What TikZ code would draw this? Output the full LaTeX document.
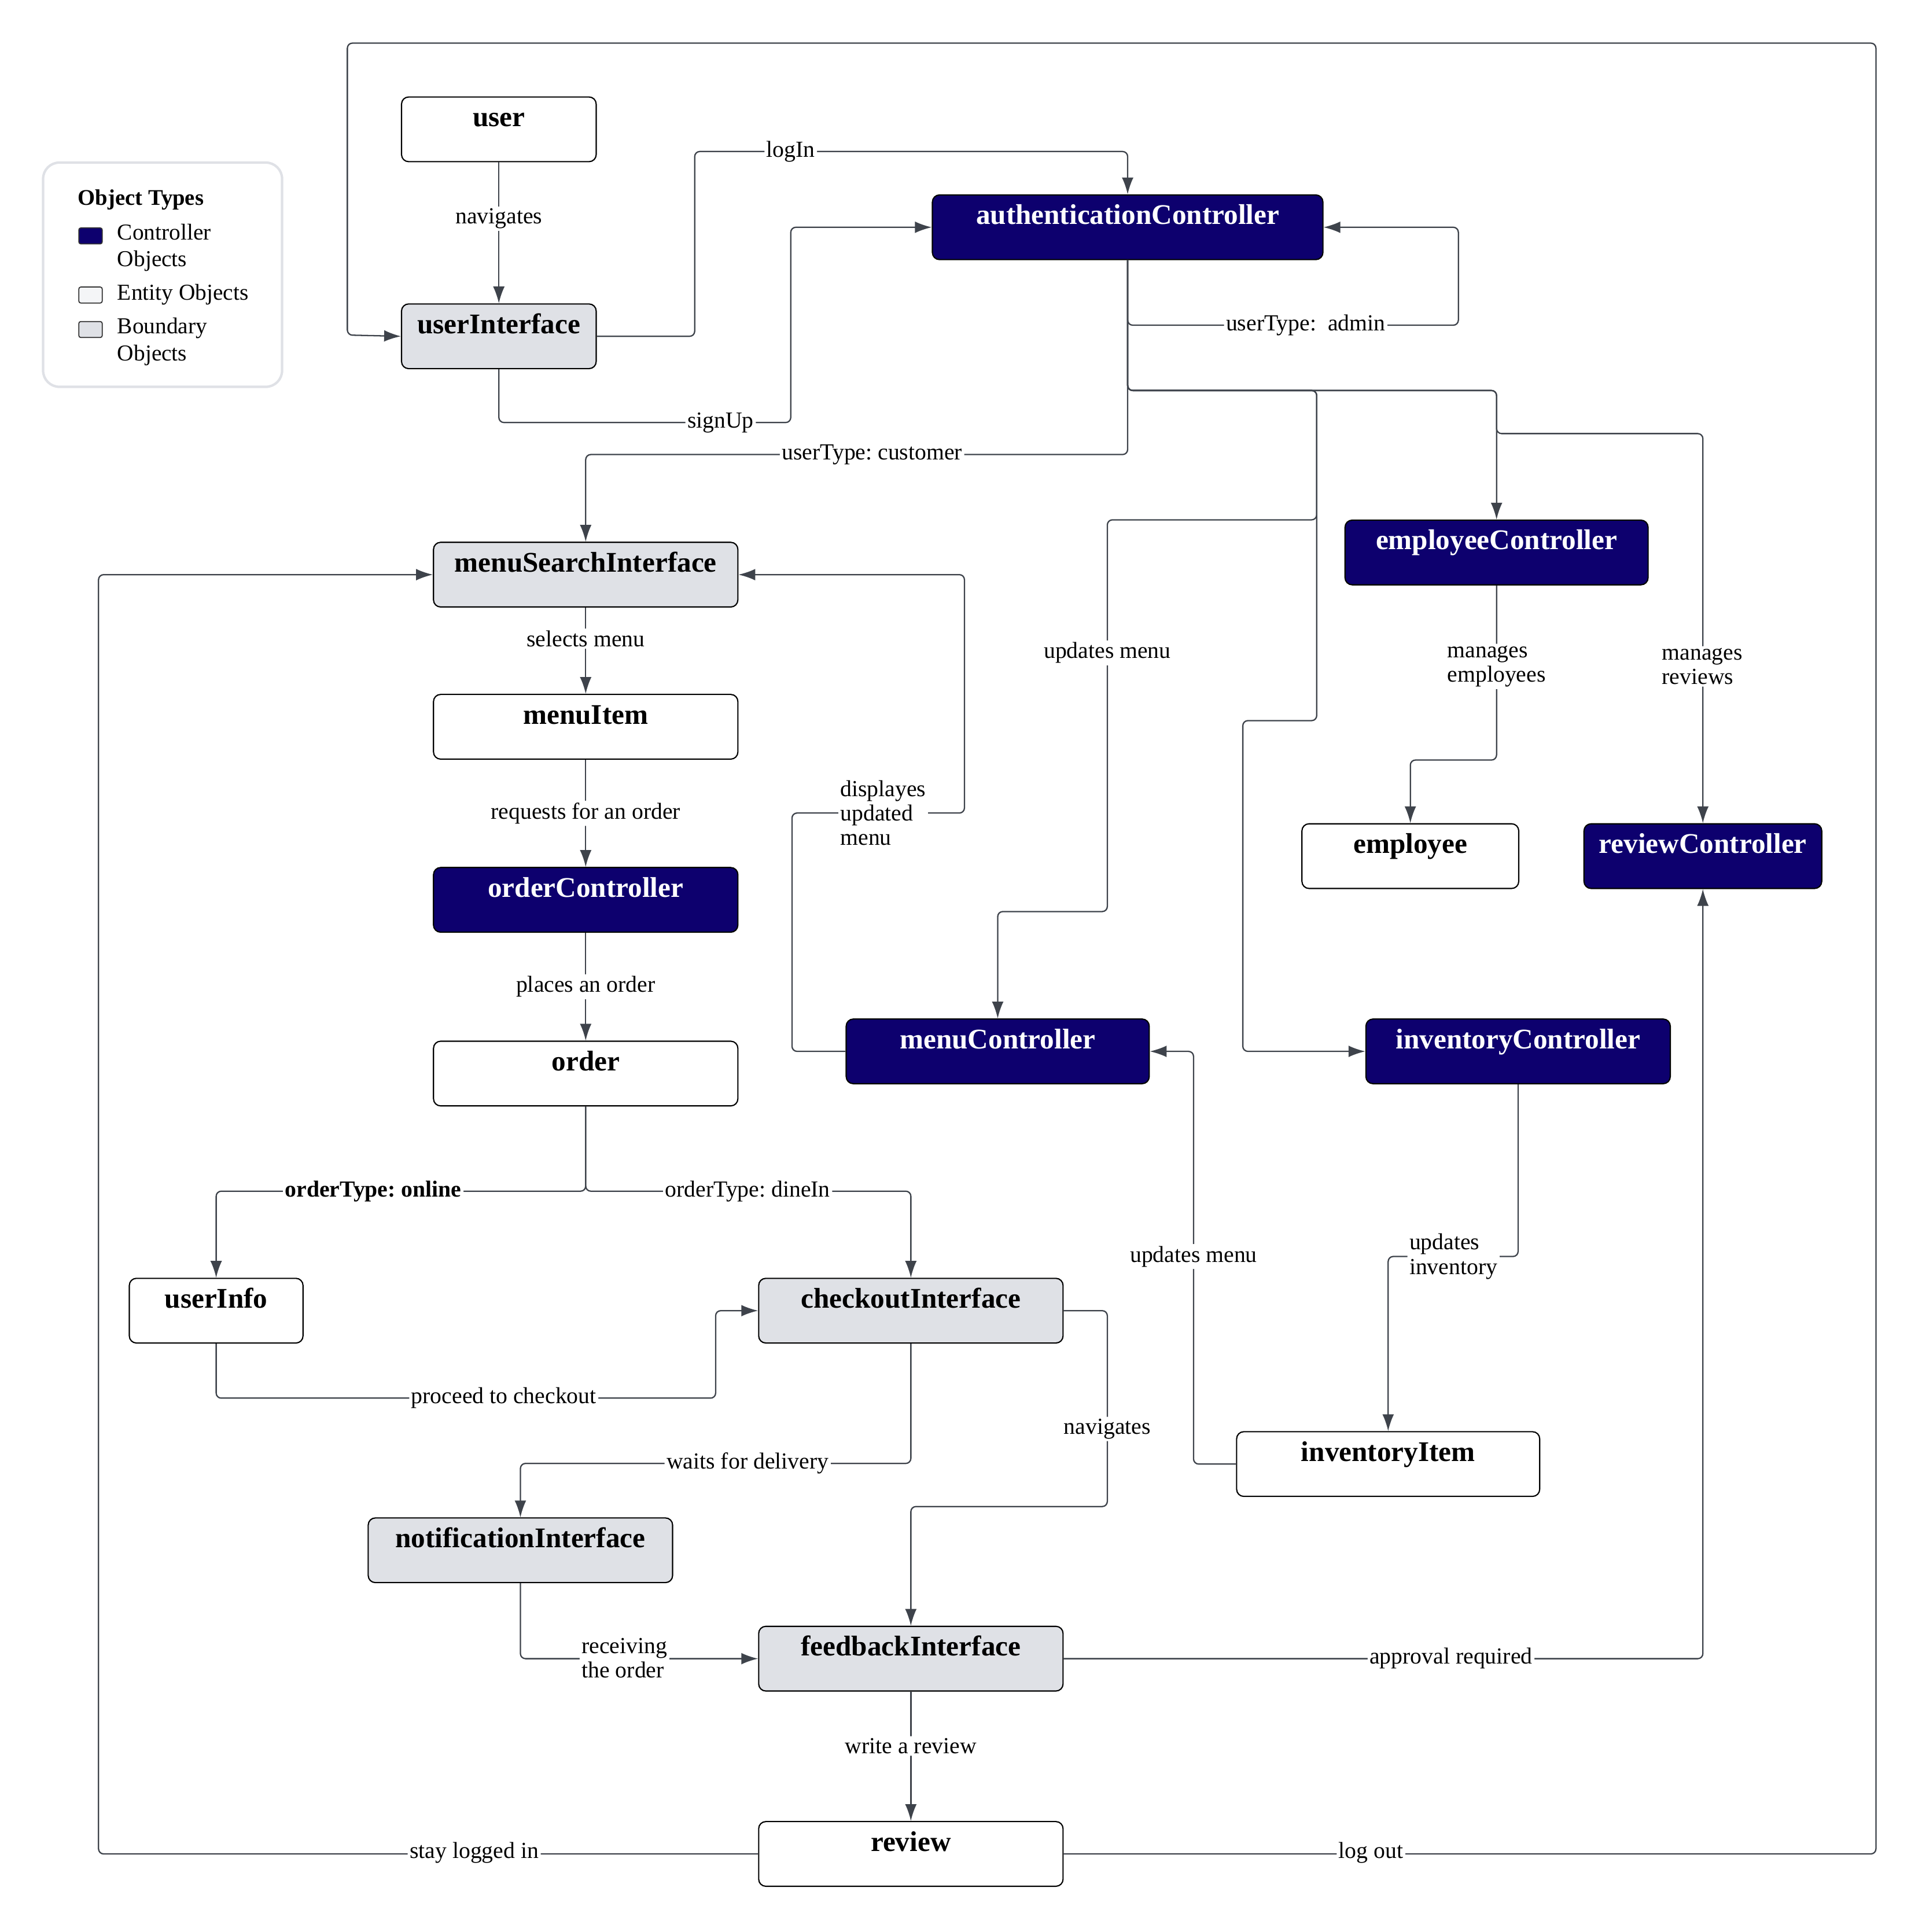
\documentclass[tikz,border=0pt]{standalone}
\usepackage{fontspec}
\setmainfont{Liberation Serif}
\usepackage{xcolor}
\definecolor{ctrlnavy}{RGB}{13,0,110}
\definecolor{bndgray}{RGB}{223,225,230}
\definecolor{entgray}{RGB}{244,245,247}
\definecolor{linegray}{RGB}{62,67,75}
\definecolor{leggray}{RGB}{223,225,230}
\usepackage{tikz}
\usetikzlibrary{shapes,arrows.meta,positioning,calc}
\frenchspacing

\begin{document}
\begin{tikzpicture}[
  x=0.02129cm, y=-0.02129cm,
  ctrlbox/.style={rectangle, rounded corners=3.5pt, draw=black, line width=0.6pt,
                 minimum width=5.26cm, inner xsep=2pt, inner ysep=0pt,
                 text height=14.5pt, text depth=17.3pt,
                 font=\fontsize{14}{16}\selectfont\bfseries,
                 fill=ctrlnavy, text=white},
  entbox/.style={rectangle, rounded corners=3.5pt, draw=black, line width=0.6pt,
                 minimum width=5.26cm, inner xsep=2pt, inner ysep=0pt,
                 text height=14.5pt, text depth=17.3pt,
                 font=\fontsize{14}{16}\selectfont\bfseries,
                 fill=white},
  bndbox/.style={rectangle, rounded corners=3.5pt, draw=black, line width=0.6pt,
                 minimum width=5.26cm, inner xsep=2pt, inner ysep=0pt,
                 text height=14.5pt, text depth=17.3pt,
                 font=\fontsize{14}{16}\selectfont\bfseries,
                 fill=bndgray},
  swatch/.style={rectangle, rounded corners=1pt, draw=black!80, line width=0.5pt,
                 minimum width=0.405cm, minimum height=0.277cm, inner sep=0pt},
  legtxt/.style={anchor=west, align=left, inner sep=0pt,
                 font=\fontsize{11.2}{13.3}\selectfont},
  lbl/.style={fill=white, inner sep=1pt, align=left, text=black,
              font=\fontsize{11.3}{12}\selectfont},
  darr/.style={-{Latex[length=2.9mm,width=2mm]}, line width=0.65pt,
               color=linegray, rounded corners=2.5pt}
]
\useasboundingbox (0,0) rectangle (1560,1568.4);

%% legend
\node[rectangle, rounded corners=8pt, draw=leggray, line width=1.2pt,
      minimum width=4.13cm, minimum height=3.875cm] (legend) at (132,223) {};
\node[legtxt, font=\fontsize{11}{13}\selectfont\bfseries] (legTitle) at (63,162) {Object Types};
\node[swatch, fill=ctrlnavy] (swCtrl) at (73.5,191.5) {};
\node[swatch, fill=entgray]  (swEnt)  at (73.5,239.5) {};
\node[swatch, fill=bndgray]  (swBnd)  at (73.5,267.5) {};
\node[legtxt] (legCtrl) at (95,201)   {Controller\\Objects};
\node[legtxt] (legEnt)  at (95,239)   {Entity Objects};
\node[legtxt] (legBnd)  at (95,277.5) {Boundary\\Objects};

%% objects
\node[entbox, minimum width=3.364cm] (user) at (405,105)   {user};
\node[bndbox, minimum width=3.364cm] (ui)   at (405,273)   {userInterface};
\node[ctrlbox, minimum width=6.749cm] (auth) at (915.5,184.5) {authenticationController};

\node[bndbox] (msi)   at (475.5,466.5) {menuSearchInterface};
\node[entbox] (mi)    at (475.5,590)   {menuItem};
\node[ctrlbox] (oc)   at (475.5,730.5) {orderController};
\node[entbox] (order) at (475.5,871.5) {order};

\node[entbox, minimum width=3.002cm] (uinfo) at (175.5,1064) {userInfo};
\node[bndbox] (co)    at (739.5,1064)  {checkoutInterface};
\node[bndbox] (notif) at (422.5,1258.5) {notificationInterface};
\node[bndbox] (fb)    at (739.5,1346.5) {feedbackInterface};
\node[entbox] (rev)   at (739.5,1505)  {review};

\node[ctrlbox, minimum width=5.237cm] (emc) at (1215,448.5)  {employeeController};
\node[entbox, minimum width=3.747cm]  (emp) at (1145,695)    {employee};
\node[ctrlbox, minimum width=4.109cm] (rc)  at (1382.5,695)  {reviewController};
\node[ctrlbox, minimum width=5.237cm] (mc)  at (810,853.5)   {menuController};
\node[ctrlbox] (ic) at (1232.5,853.5) {inventoryController};
\node[entbox, minimum width=5.237cm]  (ii)  at (1127,1188.5) {inventoryItem};

%% arrows
\draw[darr] (user) -- node[lbl, pos=0.4] (lNav) {navigates} (ui);
\draw[darr] (rev.east) -| (1523,35) -| (282,272) -- (ui.west)
  node[lbl] (lOut) at (1113,1504) {log out};
\draw[darr] (ui.east) -| (564,123) -| (auth.north)
  node[lbl] (lIn) at (642,123) {logIn};
\draw[darr] (ui.south) |- (642,343) |- (auth.west)
  node[lbl] (lUp) at (585,343) {signUp};
\draw[darr] (auth.south) |- (1184,264) |- (auth.east)
  node[lbl] (lAdm) at (1060,264) {userType:\ \ admin};
\draw[darr] (auth.south) |- (475.5,369) -- (msi.north)
  node[lbl] (lCus) at (708,369) {userType: customer};
\draw[darr] (auth.south) |- (1215,317) -- (emc.north);
\draw[darr] (auth.south) |- (1215,317) |- (1382.5,352) -- (rc.north)
  node[lbl] (lRevs) at (1382,541) {manages\\reviews};
\draw[darr] (auth.south) |- (1069,317) |- (899,422) |- (810,740) -- (mc.north)
  node[lbl] (lUpd1) at (899,530) {updates menu};
\draw[darr] (auth.south) |- (1069,317) |- (1009,585) |- (ic.west);
\draw[darr] (emc.south) |- (1145,617) -- (emp.north)
  node[lbl] (lEmps) at (1215,541) {manages\\employees};

\draw[darr] (msi) -- node[lbl, pos=0.36] (lSel) {selects menu} (mi);
\draw[darr] (mi) -- node[lbl] (lReq) {requests for an order} (oc);
\draw[darr] (oc) -- node[lbl] (lPlc) {places an order} (order);
\draw[darr] (order.south) |- (175.5,967) -- (uinfo.north)
  node[lbl, font=\fontsize{11.3}{12}\selectfont\bfseries] (lOnl) at (303,967) {orderType: online};
\draw[darr] (order.south) |- (739.5,967) -- (co.north)
  node[lbl] (lDin) at (607,967) {orderType: dineIn};
\draw[darr] (uinfo.south) |- (581,1135) |- (co.west)
  node[lbl] (lChk) at (409,1135) {proceed to checkout};
\draw[darr] (co.south) |- (422.5,1188) -- (notif.north)
  node[lbl] (lWait) at (607,1188) {waits for delivery};
\draw[darr] (co.east) -| (899,1223) -| (fb.north)
  node[lbl] (lNav2) at (899,1160) {navigates};
\draw[darr] (notif.south) |- (fb.west)
  node[lbl] (lRcv) at (507,1346) {receiving\\the order};
\draw[darr] (fb.east) -| (rc.south)
  node[lbl] (lApp) at (1178,1346) {approval required};
\draw[darr] (fb) -- node[lbl, pos=0.42] (lWrt) {write a review} (rev);
\draw[darr] (rev.west) -| (80,466.5) -- (msi.west)
  node[lbl] (lStay) at (385,1504) {stay logged in};
\draw[darr] (mc.west) -| (643,660) -| (783,466.5) -- (msi.east)
  node[lbl] (lDisp) at (717,660) {displayes\\updated\\menu};
\draw[darr] (ii.west) -| (969,853.5) -- (mc.east)
  node[lbl] (lUpd2) at (969,1020) {updates menu};
\draw[darr] (ic.south) |- (1127,1020) -- (ii.north)
  node[lbl] (lInv) at (1180,1020) {updates\\inventory};

\end{tikzpicture}
\end{document}
